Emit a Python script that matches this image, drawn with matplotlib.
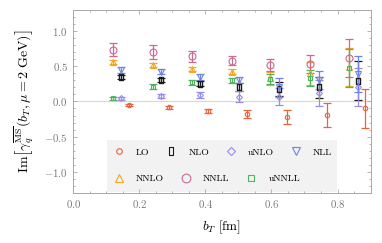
import matplotlib
matplotlib.use("Agg")
import matplotlib.pyplot as plt
from matplotlib.lines import Line2D
from matplotlib.patches import Rectangle
from matplotlib.ticker import MultipleLocator

plt.rcParams.update({
    "font.family": "serif",
    "font.serif": ["cmr10"],
    "mathtext.fontset": "cm",
    "axes.formatter.use_mathtext": True,
    "axes.unicode_minus": True,
})

# Палитра
C_LO = "#E8643C"
C_NLO = "#1A1A1A"
C_UNLO = "#978DE3"
C_NLL = "#6F84E2"
C_NNLO = "#F5A623"
C_NNLL = "#C86A92"
C_UNNLL = "#4FB45C"
FRAME = "#A8A8A8"
TICKTXT = "#7A7A7A"

# --- данные -----------------------------------------------------------------
x_nn = [0.121, 0.240, 0.360, 0.479, 0.597, 0.717, 0.836]   # NNLL, NNLO, uNNLL
x_n = [0.144, 0.264, 0.385, 0.501, 0.622, 0.743, 0.863]    # NLL, NLO, uNLO
x_lo = [0.169, 0.289, 0.408, 0.526, 0.647, 0.767, 0.883]   # LO

y_nnll = [0.735, 0.705, 0.64, 0.578, 0.522, 0.533, 0.62]
e_nnll = [0.095, 0.095, 0.078, 0.066, 0.083, 0.13, 0.27]
y_nnlo = [0.56, 0.52, 0.465, 0.423, 0.33, 0.40, 0.483]
e_nnlo = [0.03, 0.03, 0.03, 0.035, 0.09, 0.165, 0.27]
y_unnll = [0.045, 0.21, 0.27, 0.30, 0.32, 0.33, 0.47]
e_unnll = [0.025, 0.035, 0.03, 0.035, 0.075, 0.11, 0.27]

y_nll = [0.45, 0.423, 0.35, 0.305, 0.20, 0.30, 0.39]
e_nll = [0.04, 0.04, 0.04, 0.04, 0.14, 0.13, 0.25]
y_nlo = [0.342, 0.305, 0.255, 0.205, 0.173, 0.20, 0.295]
e_nlo = [0.03, 0.03, 0.04, 0.06, 0.10, 0.15, 0.28]
y_unlo = [0.045, 0.082, 0.092, 0.068, 0.07, 0.12, 0.21]
e_unlo = [0.02, 0.03, 0.04, 0.078, 0.12, 0.18, 0.27]

y_lo = [-0.05, -0.083, -0.135, -0.18, -0.215, -0.19, -0.097]
e_lo = [0.02, 0.025, 0.03, 0.06, 0.10, 0.17, 0.28]

# вертикальный прямоугольник для NLO
RECT = [(-0.32, -0.5), (0.32, -0.5), (0.32, 0.5), (-0.32, 0.5), (-0.32, -0.5)]

series = [
    # label, x, y, err, color, marker, size
    ("LO", x_lo, y_lo, e_lo, C_LO, "o", 3.2),
    ("NLO", x_n, y_nlo, e_nlo, C_NLO, RECT, 4.2),
    ("uNLO", x_n, y_unlo, e_unlo, C_UNLO, "D", 3.0),
    ("NLL", x_n, y_nll, e_nll, C_NLL, "v", 4.2),
    ("NNLO", x_nn, y_nnlo, e_nnlo, C_NNLO, "^", 4.2),
    ("NNLL", x_nn, y_nnll, e_nnll, C_NNLL, "o", 5.0),
    ("uNNLL", x_nn, y_unnll, e_unnll, C_UNNLL, "s", 3.4),
]

fig = plt.figure(figsize=(3.82, 2.43), dpi=100)
ax = fig.add_axes([0.192, 0.206, 0.778, 0.753])

ax.axhline(0, color="#D8D8D8", lw=0.8, zorder=0.8)

handles = []
for lab, xs, ys, es, c, m, ms in series:
    ax.errorbar(xs, ys, yerr=es, fmt="none", ecolor=c, elinewidth=0.9,
                capsize=2.6, capthick=0.9, zorder=2)
    ax.plot(xs, ys, ls="none", marker=m, ms=ms, mfc="none", mec=c,
            mew=1.0 if lab == "NLO" else 0.8, zorder=3)
    handles.append(Line2D([], [], ls="none", marker=m, ms=ms * 1.25,
                          mfc="none", mec=c, mew=0.8, label=lab))

# фон легенды
ax.add_patch(Rectangle((0.113, 0.005), 0.774, 0.285, transform=ax.transAxes,
                       fc="#F2F2F2", ec="none", zorder=1))

leg_kw = dict(frameon=False, fontsize=7, handlelength=1.2, handletextpad=1.2,
              columnspacing=1.6, borderpad=0, borderaxespad=0,
              loc="center left")
leg1 = ax.legend(handles=handles[:4], ncol=4,
                 bbox_to_anchor=(0.133, 0.222), **leg_kw)
ax.add_artist(leg1)
ax.legend(handles=handles[4:], ncol=3,
          bbox_to_anchor=(0.133, 0.077), **leg_kw)

ax.set_xlim(0, 0.9)
ax.set_ylim(-1.3, 1.3)
ax.xaxis.set_major_locator(MultipleLocator(0.2))
ax.xaxis.set_minor_locator(MultipleLocator(0.05))
ax.yaxis.set_major_locator(MultipleLocator(0.5))
ax.yaxis.set_minor_locator(MultipleLocator(0.1))
ax.tick_params(which="both", direction="in", top=True, right=True,
               color=FRAME, labelcolor=TICKTXT, labelsize=7.8, width=0.6)
ax.tick_params(which="major", length=3.0, pad=4)
ax.tick_params(which="minor", length=1.6)
for s in ax.spines.values():
    s.set_color(FRAME)
    s.set_linewidth(0.7)

ax.set_xlabel(r"$b_T$ [fm]", fontsize=9.5, labelpad=6)
ax.set_ylabel(r"$\mathrm{Im}\left[\gamma_q^{\overline{\mathrm{MS}}}(b_T, \mu = 2\ \mathrm{GeV})\right]$",
              fontsize=10, labelpad=6)

fig.savefig("out.png", dpi=100)
